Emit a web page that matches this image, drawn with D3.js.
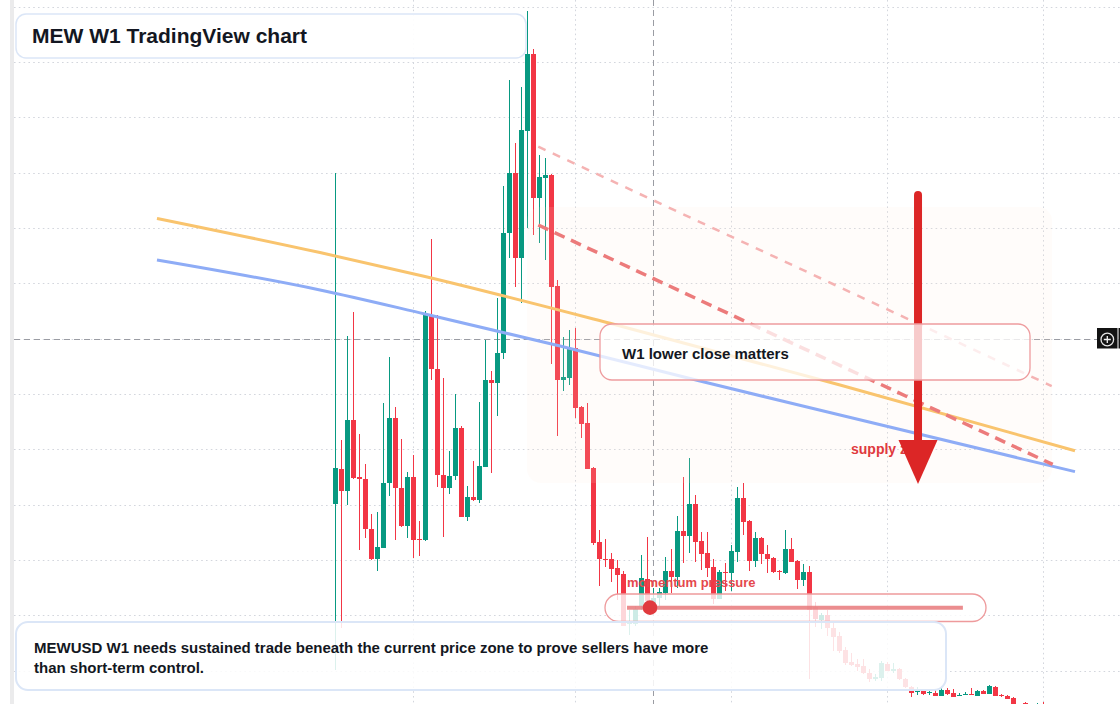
<!DOCTYPE html>
<html><head><meta charset="utf-8">
<script src="https://cdn.jsdelivr.net/npm/d3@7"></script>
<style>html,body{margin:0;padding:0;background:#fff;overflow:hidden}svg{display:block}</style>
</head><body><svg id="chart" width="1120" height="704"></svg>
<script>
// MEWUSD weekly candles, prices in USD x 1e-3
const open = [
2.506,2.819,2.626,3.265,2.752,2.732,2.280,2.011,2.111,2.693,
3.286,2.653,2.310,2.750,2.185,2.178,4.214,3.723,2.765,2.648,
2.759,3.190,2.391,2.566,2.542,2.843,3.626,3.596,3.868,4.952,
5.494,4.731,5.879,6.572,5.274,5.454,5.479,4.476,3.626,3.647,
3.913,3.382,3.235,2.828,2.162,2.009,2.006,1.927,1.873,1.419,
1.419,1.584,1.828,1.584,1.654,1.701,1.900,1.846,2.264,2.219,
2.506,2.171,2.063,1.939,1.650,1.889,1.885,2.075,2.563,2.352,
1.991,2.201,2.054,2.018,1.898,1.885,2.099,1.991,1.819,1.891,
1.572,1.457,1.503,1.388,1.313,1.186,1.078,1.060,1.042,0.981,
0.927,0.936,1.060,0.999,1.012,0.922,0.849,0.807,0.831,0.795,
0.800,0.771,0.825,0.795,0.773,0.781,0.789,0.771,0.819,0.789,
0.852,0.780,0.771,0.753,0.680,0.703,0.680,0.662,0.700];
const high = [
5.500,3.084,4.024,4.241,3.138,2.867,2.415,2.436,3.421,3.837,
3.380,3.096,2.795,2.951,2.352,4.250,4.900,4.214,3.644,2.985,
3.500,3.213,2.668,2.894,3.425,3.988,3.708,4.365,5.379,6.337,
5.765,6.271,6.961,6.615,5.660,5.630,5.488,4.530,4.018,4.078,
4.093,3.391,3.416,2.836,2.271,2.189,2.066,2.000,1.900,1.548,
1.587,2.045,2.207,1.747,1.744,2.024,2.099,2.397,2.752,2.919,
2.587,2.255,2.250,2.009,1.909,1.970,2.132,2.662,2.698,2.361,
2.255,2.207,2.132,2.027,1.909,2.271,2.196,2.000,1.961,1.945,
1.623,1.523,1.548,1.433,1.352,1.216,1.157,1.102,1.102,1.012,
0.969,1.090,1.081,1.066,1.024,0.933,0.861,0.855,0.838,0.825,
0.825,0.849,0.840,0.831,0.795,0.807,0.840,0.822,0.828,0.870,
0.861,0.789,0.780,0.759,0.695,0.716,0.690,0.705,0.712];
const low = [
1.006,1.385,2.497,2.732,2.090,2.196,2.000,1.903,2.108,2.581,
2.180,2.298,2.201,2.020,2.036,2.171,3.626,2.662,2.210,2.593,
2.723,2.388,2.355,2.536,2.512,2.840,2.789,3.301,3.813,4.726,
4.469,4.325,4.997,4.937,4.862,4.711,3.771,3.120,3.530,3.581,
3.280,3.099,2.822,2.135,1.767,1.939,1.804,1.638,1.403,1.322,
1.403,1.548,1.521,1.539,1.584,1.638,1.699,1.744,1.970,2.066,
1.984,1.909,1.849,1.599,1.647,1.722,1.719,1.984,2.226,1.903,
1.939,1.963,1.885,1.879,1.819,1.873,1.980,1.740,1.765,0.922,
1.391,1.373,1.313,1.180,1.157,1.051,1.042,0.999,0.969,0.900,
0.909,0.903,0.995,0.976,0.915,0.840,0.759,0.780,0.784,0.780,
0.766,0.766,0.784,0.757,0.771,0.775,0.775,0.768,0.786,0.786,
0.768,0.762,0.739,0.662,0.650,0.662,0.640,0.650,0.650];
const close = [
2.828,2.626,3.265,2.743,2.729,2.277,2.011,2.117,2.695,3.286,
2.653,2.310,2.750,2.178,2.176,4.220,3.723,2.765,2.648,2.759,
3.190,2.391,2.566,2.542,2.849,3.626,3.596,3.873,4.952,5.494,
4.731,5.885,6.572,5.274,5.461,5.479,4.469,3.626,3.651,3.913,
3.376,3.231,2.825,2.156,2.006,2.001,1.921,1.867,1.406,1.433,
1.554,1.837,1.629,1.656,1.713,1.900,1.846,2.264,2.219,2.506,
2.165,2.057,1.930,1.650,1.894,1.882,2.081,2.563,2.346,1.991,
2.201,2.051,2.009,1.891,1.891,2.099,1.984,1.819,1.891,1.548,
1.464,1.503,1.388,1.307,1.177,1.072,1.051,1.035,0.976,0.927,
0.940,1.066,0.999,1.012,0.922,0.849,0.800,0.831,0.789,0.805,
0.771,0.825,0.789,0.759,0.782,0.791,0.780,0.819,0.789,0.861,
0.771,0.772,0.744,0.680,0.690,0.680,0.660,0.690,0.680];

// grid ticks
const priceTicks = [1.0,1.5,2.0,2.5,3.0,3.5,4.0,4.5,5.0,5.5,6.0,6.5,7.0];
const timeTickBars = [14,41,67,93,119];

// overlay curves (bar index, price)
const orangeBars = [-28.72,-1.55,15.95,46.78,85.12,124.28];
const orangePrice = [5.087,4.778,4.562,4.139,3.581,2.987];
const blueBars = [-28.72,-1.55,15.95,38.45,61.78,85.12,124.28];
const bluePrice = [4.711,4.440,4.223,3.934,3.617,3.310,2.798];
// dashed trend lines [startBar, startPrice, endBar, endPrice]
const trendLight = [34.83,5.735,120.4,3.572];
const trendDark = [34.83,5.027,120.57,2.863];
// supply zone [bar0, bar1, priceTop, priceBottom]
const supplyZone = [32.95,120.45,5.190,2.695];
// arrow [bar, priceTop, priceTip]
const arrowSpec = [98.12,5.298,2.687];
// momentum level [bar0, bar1, price, dotBar]
const momentumLevel = [49.62,105.6,1.569,53.45];
// crosshair [bar, price]
const crosshair = [54,4.0];

const titleText = "MEW W1 TradingView chart";
const noteLines = ["MEWUSD W1 needs sustained trade beneath the current price zone to prove sellers have more","than short-term control."];
const calloutText = "W1 lower close matters";
const momentumText = "momentum pressure";
const zoneText = "supply zone";

const W = 1120, H = 704;
const svg = d3.select("#chart");
const FONT = "'Liberation Sans', Arial, Helvetica, sans-serif";
const x = d3.scaleLinear().domain([1, 132]).range([335.3, 335.3 + 6*131]);
const y = d3.scaleLinear().domain([1.0, 7.0]).range([670.6, 6.7]);
const UP = "#089981", DOWN = "#f23645";

svg.append("rect").attr("width",W).attr("height",H).attr("fill","#fff");
svg.append("rect").attr("x",10).attr("y",0).attr("width",4).attr("height",H).attr("fill","#ebebec");

// grid
const grid = svg.append("g").attr("stroke","#d3d6dd").attr("stroke-width",1).attr("stroke-dasharray","1.6,3.2");
grid.selectAll("line.h").data(priceTicks).join("line")
  .attr("x1",14).attr("x2",W).attr("y1",d=>Math.round(y(d))+0.5).attr("y2",d=>Math.round(y(d))+0.5);
grid.selectAll("line.v").data(timeTickBars).join("line")
  .attr("y1",0).attr("y2",H).attr("x1",d=>Math.floor(x(d))+0.5).attr("x2",d=>Math.floor(x(d))+0.5);

// crosshair
const ch = svg.append("g").attr("stroke","#9a9ca3").attr("stroke-width",1).attr("stroke-dasharray","6,4");
ch.append("line").attr("x1",14).attr("x2",1097).attr("y1",Math.round(y(crosshair[1]))+0.5).attr("y2",Math.round(y(crosshair[1]))+0.5);
ch.append("line").attr("y1",0).attr("y2",H).attr("x1",Math.floor(x(crosshair[0]))+0.5).attr("x2",Math.floor(x(crosshair[0]))+0.5);

// candles
const candles = open.map((o,i)=>({i:i+1,o,h:high[i],l:low[i],c:close[i]}));
const cg = svg.append("g").attr("shape-rendering","crispEdges");
cg.selectAll("line").data(candles).join("line")
  .attr("x1",d=>Math.floor(x(d.i))+0.5).attr("x2",d=>Math.floor(x(d.i))+0.5)
  .attr("y1",d=>y(d.h)).attr("y2",d=>y(d.l))
  .attr("stroke",d=>d.c>=d.o?UP:DOWN).attr("stroke-width",1);
cg.selectAll("rect").data(candles).join("rect")
  .attr("x",d=>Math.floor(x(d.i))-2).attr("width",5)
  .attr("y",d=>Math.min(y(d.o),y(d.c)))
  .attr("height",d=>Math.max(1,Math.abs(y(d.o)-y(d.c))))
  .attr("fill",d=>d.c>=d.o?UP:DOWN);

// supply zone
svg.append("rect")
  .attr("x",x(supplyZone[0])).attr("width",x(supplyZone[1])-x(supplyZone[0]))
  .attr("y",y(supplyZone[2])).attr("height",y(supplyZone[3])-y(supplyZone[2]))
  .attr("rx",14).attr("fill","rgb(255,232,212)").attr("fill-opacity",0.12);

// curves
const curve = d3.line().x(d=>x(d[0])).y(d=>y(d[1])).curve(d3.curveMonotoneX);
svg.append("path").attr("d",curve(orangeBars.map((b,i)=>[b,orangePrice[i]])))
  .attr("fill","none").attr("stroke","#f9c46e").attr("stroke-width",3);
svg.append("path").attr("d",curve(blueBars.map((b,i)=>[b,bluePrice[i]])))
  .attr("fill","none").attr("stroke","#8eacf6").attr("stroke-width",3);

// trend lines
svg.append("line").attr("x1",x(trendLight[0])).attr("y1",y(trendLight[1])).attr("x2",x(trendLight[2])).attr("y2",y(trendLight[3]))
  .attr("stroke","#f5b3b3").attr("stroke-width",2.5).attr("stroke-dasharray","8,8");
svg.append("line").attr("x1",x(trendDark[0])).attr("y1",y(trendDark[1])).attr("x2",x(trendDark[2])).attr("y2",y(trendDark[3]))
  .attr("stroke","#ec7b7b").attr("stroke-width",3.5).attr("stroke-dasharray","11,7");

// supply zone label
svg.append("text").attr("x",851).attr("y",454).text(zoneText)
  .attr("font-family",FONT).attr("font-weight","bold").attr("font-size",14).attr("fill","#e03a3e");

// arrow
const ax = x(arrowSpec[0]), aTop = y(arrowSpec[1]), aTip = y(arrowSpec[2]);
svg.append("line").attr("x1",ax).attr("x2",ax).attr("y1",aTop).attr("y2",aTip-44)
  .attr("stroke","#dc2626").attr("stroke-width",8).attr("stroke-linecap","round");
svg.append("path").attr("d",`M${ax-19.5},${aTip-44}L${ax+19.5},${aTip-44}L${ax},${aTip}Z`).attr("fill","#dc2626");

// callout box
svg.append("rect").attr("x",600).attr("y",324).attr("width",430).attr("height",56).attr("rx",12)
  .attr("fill","#fff").attr("fill-opacity",0.76).attr("stroke","#ee9c9e").attr("stroke-width",1.3);
svg.append("text").attr("x",622).attr("y",359).text(calloutText)
  .attr("font-family",FONT).attr("font-weight","bold").attr("font-size",15).attr("fill","#131722");

// momentum capsule
svg.append("rect").attr("x",605).attr("y",594).attr("width",381).attr("height",27.5).attr("rx",13.75)
  .attr("fill","#fff").attr("fill-opacity",0.8).attr("stroke","#ee9a9c").attr("stroke-width",1.3);
svg.append("line").attr("x1",x(momentumLevel[0])).attr("x2",x(momentumLevel[1]))
  .attr("y1",y(momentumLevel[2])).attr("y2",y(momentumLevel[2]))
  .attr("stroke","#e8797b").attr("stroke-opacity",0.85).attr("stroke-width",4);
svg.append("circle").attr("cx",x(momentumLevel[3])).attr("cy",y(momentumLevel[2])).attr("r",7.3).attr("fill","#e03a3e");
svg.append("text").attr("x",627).attr("y",587).text(momentumText)
  .attr("font-family",FONT).attr("font-weight","bold").attr("font-size",13).attr("fill","#e5484d");

// title box
svg.append("rect").attr("x",16).attr("y",14).attr("width",510).attr("height",44).attr("rx",10)
  .attr("fill","#fff").attr("fill-opacity",0.92).attr("stroke","#dbe6f7").attr("stroke-width",1.5);
svg.append("text").attr("x",32).attr("y",43).text(titleText)
  .attr("font-family",FONT).attr("font-weight","bold").attr("font-size",21).attr("fill","#131722");

// note box
svg.append("rect").attr("x",16).attr("y",622).attr("width",930).attr("height",68).attr("rx",12)
  .attr("fill","#fff").attr("fill-opacity",0.86).attr("stroke","#dbe6f7").attr("stroke-width",2);
svg.append("g").selectAll("text").data(noteLines).join("text")
  .attr("x",34).attr("y",(d,i)=>653+i*20).text(d=>d)
  .attr("font-family",FONT).attr("font-weight","bold").attr("font-size",15).attr("fill","#131722");

// crosshair + button
const cy = Math.round(y(crosshair[1]))+0.5;
svg.append("rect").attr("x",1097).attr("y",328).attr("width",20.5).attr("height",20.5).attr("fill","#131313");
svg.append("rect").attr("x",1118.5).attr("y",328).attr("width",2).attr("height",20.5).attr("fill","#131313");
svg.append("circle").attr("cx",1107.3).attr("cy",cy).attr("r",6.3).attr("fill","none").attr("stroke","#e6e6e6").attr("stroke-width",1.3);
svg.append("path").attr("d",`M1103.8,${cy}H1110.8M1107.3,${cy-3.5}V${cy+3.5}`).attr("stroke","#f2f2f2").attr("stroke-width",1.3);
</script></body></html>
